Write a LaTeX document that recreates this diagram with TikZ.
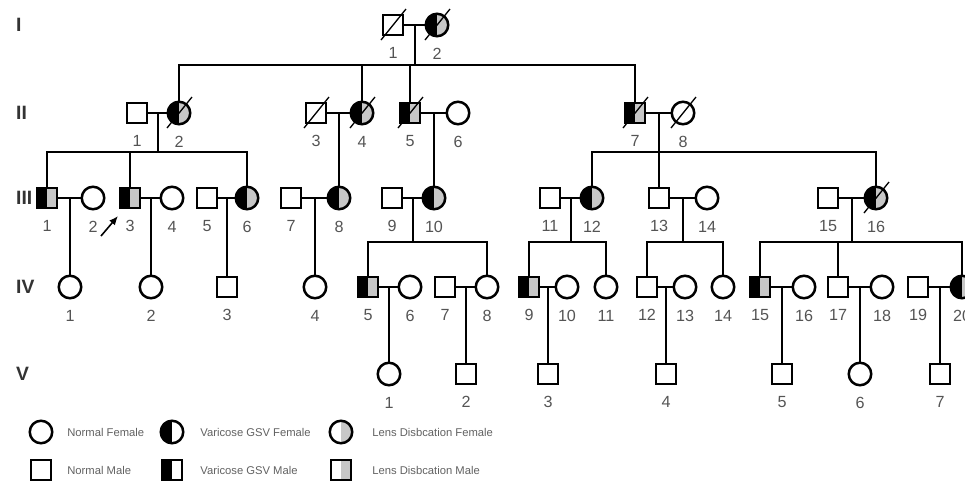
\documentclass[tikz,border=0pt]{standalone}
\usepackage{fontspec}
\setmainfont{Liberation Sans}
\usetikzlibrary{arrows.meta,calc}
\definecolor{lensgray}{gray}{0.78}
\definecolor{numgray}{gray}{0.33}
\definecolor{leggray}{gray}{0.38}

\begin{document}
\begin{tikzpicture}[
  x=0.02cm,y=-0.02cm,
  ind/.style={draw,inner sep=0pt,line width=0.05cm},
  male/.style={ind,rectangle,minimum size=4mm},
  female/.style={ind,circle,minimum size=4.5mm},
  vari/.style={path picture={\fill[black] (path picture bounding box.south west) rectangle (path picture bounding box.north);}},
  lens/.style={path picture={\fill[lensgray] (path picture bounding box.south) rectangle (path picture bounding box.north east);}},
  both/.style={path picture={\fill[black] (path picture bounding box.south west) rectangle (path picture bounding box.north);
      \fill[lensgray] (path picture bounding box.south) rectangle (path picture bounding box.north east);}},
  every label/.style={font=\fontsize{9.2}{10}\selectfont,text=numgray,inner sep=0pt},
  label distance=2.1mm,
  gen/.style={anchor=west,font=\fontsize{11}{12}\selectfont\bfseries,text=black!80},
  link/.style={line width=0.05cm},
  slash/.style={line width=0.75pt},
  legend/.style={anchor=west,inner sep=0pt,font=\fontsize{6.4}{7}\selectfont,text=leggray}
]
\useasboundingbox (0,0) rectangle (965,481);

\node[gen] (gI) at (10,25) {I};
\node[gen] (gII) at (10,113) {II};
\node[gen] (gIII) at (10,198) {III};
\node[gen] (gIV) at (10,287) {IV};
\node[gen] (gV) at (10,374) {V};

\node[male,label=below:1] (I1) at (393,25) {};
\node[female,both,label=below:2] (I2) at (437,25) {};

\node[male,label=below:1] (II1) at (137,113) {};
\node[female,both,label=below:2] (II2) at (179,113) {};
\node[male,label=below:3] (II3) at (316,113) {};
\node[female,both,label=below:4] (II4) at (362,113) {};
\node[male,both,label=below:5] (II5) at (410,113) {};
\node[female,label=below:6] (II6) at (458,113) {};
\node[male,both,label=below:7] (II7) at (635,113) {};
\node[female,label=below:8] (II8) at (683,113) {};

\node[male,both,label=below:1] (III1) at (47,198) {};
\node[female,label=below:2] (III2) at (93,198) {};
\node[male,both,label=below:3] (III3) at (130,198) {};
\node[female,label=below:4] (III4) at (172,198) {};
\node[male,label=below:5] (III5) at (207,198) {};
\node[female,both,label=below:6] (III6) at (247,198) {};
\node[male,label=below:7] (III7) at (291,198) {};
\node[female,both,label=below:8] (III8) at (339,198) {};
\node[male,label=below:9] (III9) at (392,198) {};
\node[female,both,label=below:10] (III10) at (434,198) {};
\node[male,label=below:11] (III11) at (550,198) {};
\node[female,both,label=below:12] (III12) at (592,198) {};
\node[male,label=below:13] (III13) at (659,198) {};
\node[female,label=below:14] (III14) at (707,198) {};
\node[male,label=below:15] (III15) at (828,198) {};
\node[female,both,label=below:16] (III16) at (876,198) {};

\node[female,label=below:1] (IV1) at (70,287) {};
\node[female,label=below:2] (IV2) at (151,287) {};
\node[male,label=below:3] (IV3) at (227,287) {};
\node[female,label=below:4] (IV4) at (315,287) {};
\node[male,both,label=below:5] (IV5) at (368,287) {};
\node[female,label=below:6] (IV6) at (410,287) {};
\node[male,label=below:7] (IV7) at (445,287) {};
\node[female,label=below:8] (IV8) at (487,287) {};
\node[male,both,label=below:9] (IV9) at (529,287) {};
\node[female,label=below:10] (IV10) at (567,287) {};
\node[female,label=below:11] (IV11) at (606,287) {};
\node[male,label=below:12] (IV12) at (647,287) {};
\node[female,label=below:13] (IV13) at (685,287) {};
\node[female,label=below:14] (IV14) at (723,287) {};
\node[male,both,label=below:15] (IV15) at (760,287) {};
\node[female,label=below:16] (IV16) at (804,287) {};
\node[male,label=below:17] (IV17) at (838,287) {};
\node[female,label=below:18] (IV18) at (882,287) {};
\node[male,label=below:19] (IV19) at (918,287) {};
\node[female,both,label=below:20] (IV20) at (962,287) {};

\node[female,label=below:1] (V1) at (389,374) {};
\node[male,label=below:2] (V2) at (466,374) {};
\node[male,label=below:3] (V3) at (548,374) {};
\node[male,label=below:4] (V4) at (666,374) {};
\node[male,label=below:5] (V5) at (782,374) {};
\node[female,label=below:6] (V6) at (860,374) {};
\node[male,label=below:7] (V7) at (940,374) {};

\foreach \p in {I1,I2,II2,II3,II4,II5,II7,II8,III16}
  \draw[slash] ($(\p)+(-12,15)$) -- ($(\p)+(13,-16)$);

\foreach \a/\b in {I1/I2,II1/II2,II3/II4,II5/II6,II7/II8,III1/III2,III3/III4,III5/III6,III7/III8,III9/III10,
    III11/III12,III13/III14,III15/III16,IV5/IV6,IV7/IV8,IV9/IV10,IV12/IV13,IV15/IV16,IV17/IV18,IV19/IV20} {
  \draw[link] (\a) -- (\b);
  \coordinate (m\a) at ($(\a)!0.5!(\b)$);
}

\coordinate (barI) at (0,65);
\coordinate (barII) at (0,152);
\coordinate (barIII) at (0,242);

\draw[link] (mI1) -- (mI1 |- barI) (II2.north) -- (II2 |- barI) -| (II7.north)
  (II4.north) -- (II4 |- barI) (II5.north) -- (II5 |- barI);
\draw[link] (mII1) -- (mII1 |- barII) (III1.north) -- (III1 |- barII) -| (III6.north) (III3.north) -- (III3 |- barII);
\draw[link] (mII3) -- (mII3 |- III8.north);
\draw[link] (mII5) -- (mII5 |- III10.north);
\draw[link] (mII7) -- (mII7 |- barII) (III12.north) -- (III12 |- barII) -| (III16.north) (III13.north) -- (III13 |- barII);

\foreach \m/\c in {III1/IV1,III3/IV2,III5/IV3,III7/IV4,IV5/V1,IV7/V2,IV9/V3,IV12/V4,IV15/V5,IV17/V6,IV19/V7}
  \draw[link] (m\m) -- (m\m |- \c.north);
\draw[link] (mIII9) -- (mIII9 |- barIII) (IV5.north) -- (IV5 |- barIII) -| (IV8.north);
\draw[link] (mIII11) -- (mIII11 |- barIII) (IV9.north) -- (IV9 |- barIII) -| (IV11.north);
\draw[link] (mIII13) -- (mIII13 |- barIII) (IV12.north) -- (IV12 |- barIII) -| (IV14.north);
\draw[link] (mIII15) -- (mIII15 |- barIII) (IV15.north) -- (IV15 |- barIII) -| (IV20.north)
  (IV17.north) -- (IV17 |- barIII);

\coordinate (pbtail) at (101,236);
\coordinate (pbhead) at (118,216);
\draw[-{Latex[length=1.8mm,width=1.5mm]},line width=0.9pt] (pbtail) -- (pbhead);

\node[female] (lnf) at (41,432) {};
\node[legend] (tnf) at (67,432) {Normal Female};
\node[female,vari] (lvf) at (172,432) {};
\node[legend] (tvf) at (200,432) {Varicose GSV Female};
\node[female,lens] (llf) at (341,432) {};
\node[legend] (tlf) at (372,432) {Lens Disbcation Female};
\node[male] (lnm) at (41,470) {};
\node[legend] (tnm) at (67,470) {Normal Male};
\node[male,vari] (lvm) at (172,470) {};
\node[legend] (tvm) at (200,470) {Varicose GSV Male};
\node[male,lens] (llm) at (341,470) {};
\node[legend] (tlm) at (372,470) {Lens Disbcation Male};
\end{tikzpicture}
\end{document}
